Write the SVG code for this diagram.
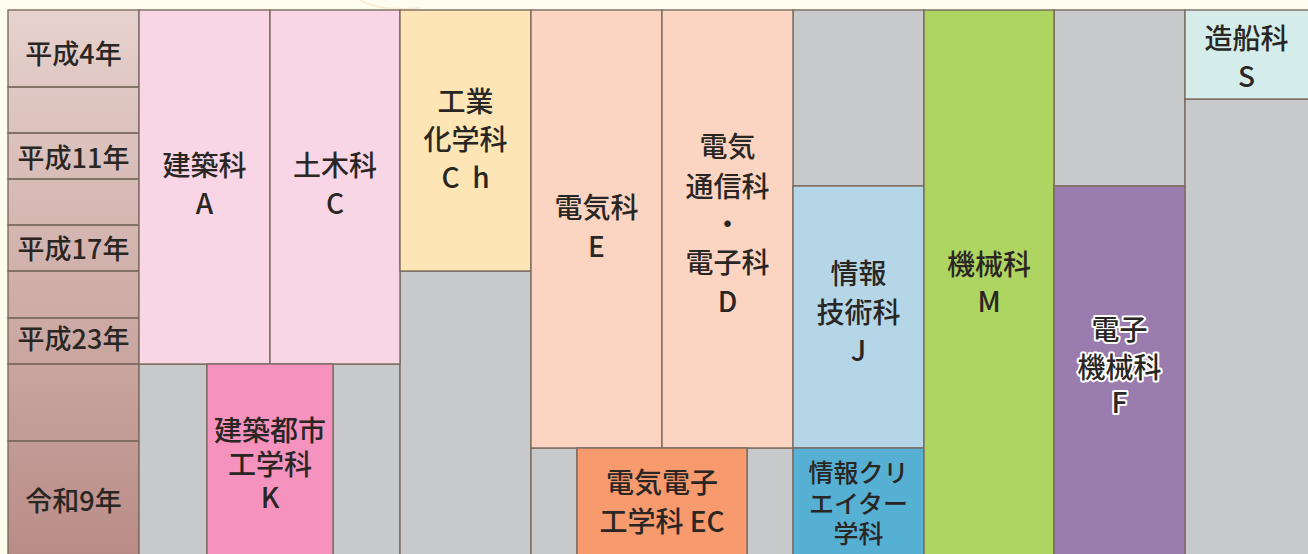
<svg xmlns="http://www.w3.org/2000/svg" width="1308" height="554" viewBox="0 0 1308 554">
<defs>
<linearGradient id="yearGrad" x1="0" y1="0" x2="0" y2="1">
<stop offset="0" stop-color="#e6d2ce"/>
<stop offset="1" stop-color="#ba8c87"/>
</linearGradient>
<style>
rect.c{stroke:#7b6b5f;stroke-width:1.4}
.t{font-family:"Noto Sans CJK JP","Noto Sans",sans-serif;font-size:28px;fill:#2a2624;text-anchor:middle;font-weight:500}
.y{font-size:27px}
.s{font-size:25px}
.halo{stroke:#ffffff;stroke-width:4;paint-order:stroke;stroke-linejoin:round}
.gray{fill:#c8c9cb}
</style>
</defs>
<rect x="0" y="0" width="1308" height="554" fill="#fefcee"/>
<path d="M360,0 Q380,12 420,8" fill="none" stroke="#f6e3c4" stroke-width="2" opacity="0.6"/>

<g id="years">
<rect x="8" y="10" width="131" height="544" fill="url(#yearGrad)"/>
<rect class="c" x="8" y="10" width="131" height="77" fill="none"/>
<rect class="c" x="8" y="87" width="131" height="46" fill="none"/>
<rect class="c" x="8" y="133" width="131" height="46" fill="none"/>
<rect class="c" x="8" y="179" width="131" height="46" fill="none"/>
<rect class="c" x="8" y="225" width="131" height="46" fill="none"/>
<rect class="c" x="8" y="271" width="131" height="47" fill="none"/>
<rect class="c" x="8" y="318" width="131" height="46" fill="none"/>
<rect class="c" x="8" y="364" width="131" height="77" fill="none"/>
<rect class="c" x="8" y="441" width="131" height="115" fill="none"/>
<text class="t y" x="73.5" y="64">平成4年</text>
<text class="t y" x="73.5" y="168">平成11年</text>
<text class="t y" x="73.5" y="259">平成17年</text>
<text class="t y" x="73.5" y="349">平成23年</text>
<text class="t y" x="73.5" y="511">令和9年</text>
</g>

<g id="gray-areas">
<rect class="c gray" x="139" y="364" width="68" height="192"/>
<rect class="c gray" x="333" y="364" width="67" height="192"/>
<rect class="c gray" x="400" y="271" width="131" height="285"/>
<rect class="c gray" x="531" y="448" width="46" height="108"/>
<rect class="c gray" x="747" y="448" width="46" height="108"/>
<rect class="c gray" x="793" y="10" width="131" height="176"/>
<rect class="c gray" x="1054" y="10" width="131" height="176"/>
<rect class="c gray" x="1185" y="99" width="125" height="457"/>
</g>

<g id="node-A">
<rect class="c" x="139" y="10" width="131" height="354" fill="#f9d6e5"/>
<text class="t" x="204.5" y="176">建築科</text>
<text class="t" x="204.5" y="214">A</text>
</g>
<g id="node-C">
<rect class="c" x="270" y="10" width="130" height="354" fill="#f9d6e5"/>
<text class="t" x="335" y="176">土木科</text>
<text class="t" x="335" y="214">C</text>
</g>
<g id="node-K">
<rect class="c" x="207" y="364" width="126" height="192" fill="#f592be"/>
<text class="t" x="270" y="441">建築都市</text>
<text class="t" x="270" y="475">工学科</text>
<text class="t" x="270" y="508">K</text>
</g>
<g id="node-Ch">
<rect class="c" x="400" y="10" width="131" height="261" fill="#fde5b6"/>
<text class="t" x="465.5" y="112">工業</text>
<text class="t" x="465.5" y="150">化学科</text>
<text class="t" x="465.5" y="188" xml:space="preserve">C  h</text>
</g>
<g id="node-E">
<rect class="c" x="531" y="10" width="131" height="438" fill="#fcd5c2"/>
<text class="t" x="596.5" y="218">電気科</text>
<text class="t" x="596.5" y="257">E</text>
</g>
<g id="node-D">
<rect class="c" x="662" y="10" width="131" height="438" fill="#fcd5c2"/>
<text class="t" x="727.5" y="157">電気</text>
<text class="t" x="727.5" y="197">通信科</text>
<text class="t" x="727.5" y="235">・</text>
<text class="t" x="727.5" y="273">電子科</text>
<text class="t" x="727.5" y="312">D</text>
</g>
<g id="node-EC">
<rect class="c" x="577" y="448" width="170" height="108" fill="#f79a6e"/>
<text class="t" x="662" y="493">電気電子</text>
<text class="t" x="662" y="532">工学科 EC</text>
</g>
<g id="node-J">
<rect class="c" x="793" y="186" width="131" height="262" fill="#b4d6e7"/>
<text class="t" x="858.5" y="284">情報</text>
<text class="t" x="858.5" y="323">技術科</text>
<text class="t" x="858.5" y="361">J</text>
</g>
<g id="node-JC">
<rect class="c" x="793" y="448" width="131" height="108" fill="#56b0d4"/>
<text class="t s" x="858.5" y="482">情報クリ</text>
<text class="t s" x="858.5" y="513">エイター</text>
<text class="t s" x="858.5" y="543">学科</text>
</g>
<g id="node-M">
<rect class="c" x="924" y="10" width="130" height="546" fill="#aed462"/>
<text class="t" x="989" y="275">機械科</text>
<text class="t" x="989" y="312">M</text>
</g>
<g id="node-F">
<rect class="c" x="1054" y="186" width="131" height="370" fill="#9a7cae"/>
<text class="t halo" x="1119.5" y="340">電子</text>
<text class="t halo" x="1119.5" y="378">機械科</text>
<text class="t halo" x="1119.5" y="413">F</text>
</g>
<g id="node-S">
<rect class="c" x="1185" y="10" width="125" height="89" fill="#d4ecea"/>
<text class="t" x="1246.5" y="49">造船科</text>
<text class="t" x="1246.5" y="87">S</text>
</g>
<g id="connectors"></g>
</svg>
